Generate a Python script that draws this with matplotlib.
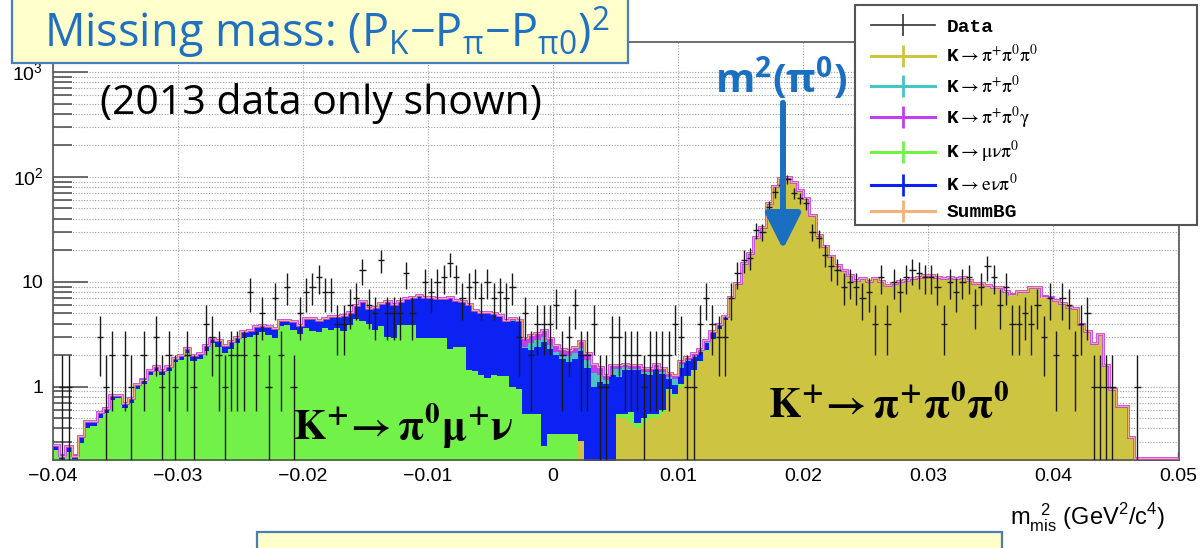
import numpy as np
import matplotlib
matplotlib.use("Agg")
import matplotlib.pyplot as plt
from matplotlib.patches import Rectangle
from matplotlib.lines import Line2D
from matplotlib.ticker import FixedLocator, LogLocator, NullFormatter
from matplotlib.font_manager import FontProperties

# histogram binning (m_mis^2 in GeV^2/c^4)
x_lo, bin_w, n_bins = -0.04, 0.0005, 180

# stacked total of all MC backgrounds (SummBG)
summ_bg = [
    0.28, 0.22, 0.27, 0.22, 0.34, 0.47, 0.47, 0.57, 0.62, 0.84,
    0.84, 0.70, 0.78, 1.05, 1.17, 1.45, 1.56, 1.45, 1.56, 1.87,
    2.0, 2.33, 2.0, 2.1, 2.5, 2.9, 2.8, 2.5, 2.7, 3.0,
    3.4, 3.5, 3.8, 3.9, 3.8, 3.6, 4.35, 4.35, 4.2, 3.9,
    4.5, 4.5, 4.35, 4.5, 4.7, 4.75, 4.85, 5.2, 6.0, 6.5,
    5.6, 5.8, 6.3, 6.5, 6.2, 6.5, 7.0, 7.2, 7.5, 7.2,
    7.2, 7.0, 7.0, 7.2, 6.7, 6.5, 6.2, 5.4, 5.2, 5.2,
    5.0, 4.85, 4.35, 4.5, 4.35, 2.9, 3.1, 3.25, 3.5, 2.9,
    2.5, 2.3, 2.25, 2.4, 2.7, 2.1, 1.65, 1.55, 1.3, 1.6,
    1.6, 1.65, 1.6, 1.6, 1.5, 1.5, 1.65, 1.5, 1.35, 1.3,
    1.75, 1.9, 2.1, 2.3, 2.8, 3.4, 4.0, 4.7, 7.2, 9.7,
    15, 18.7, 27, 33, 56, 81, 97, 100, 90, 75,
    63, 43, 28, 21.7, 17.5, 14.5, 13, 11.7, 10.4, 10.8,
    10.1, 10.8, 10.1, 9.4, 9.7, 10.1, 10.4, 10.8, 11.2, 11.7,
    11.7, 11.2, 10.8, 11.2, 10.8, 11.2, 10.4, 9.7, 9.7, 9.4,
    9.0, 9.0, 8.1, 7.5, 8.1, 8.1, 9.0, 9.0, 7.2, 7.0,
    6.7, 6.3, 5.8, 5.6, 4.0, 3.4, 2.6, 3.2, 1.6, 0.95,
    0.65, 0.65, 0.33, 0.21, 0.21, 0.21, 0.21, 0.21, 0.21, 0.21,
]

# K -> pi+ pi0 pi0
k3pi = [
    0, 0, 0, 0, 0, 0, 0, 0, 0, 0,
    0, 0, 0, 0, 0, 0, 0, 0, 0, 0,
    0, 0, 0, 0, 0, 0, 0, 0, 0, 0,
    0, 0, 0, 0, 0, 0, 0, 0, 0, 0,
    0, 0, 0, 0, 0, 0, 0, 0, 0, 0,
    0, 0, 0, 0, 0, 0, 0, 0, 0, 0,
    0, 0, 0, 0, 0, 0, 0, 0, 0, 0,
    0, 0, 0, 0, 0, 0, 0, 0, 0, 0,
    0, 0, 0, 0, 0.3, 0, 0, 0, 0, 0,
    0.5, 0.5, 0.45, 0.4, 0.45, 0.5, 0.5, 0.55, 0.9, 0.8,
    1.0, 1.2, 1.4, 1.7, 2.2, 2.8, 3.5, 4.3, 6.8, 9.3,
    14.5, 18, 26, 32, 54, 78, 94, 97, 87, 72,
    61, 41.5, 27, 21, 17, 14, 12.6, 11.3, 10.1, 10.5,
    9.8, 10.5, 9.8, 9.1, 9.4, 9.8, 10.1, 10.5, 10.9, 11.3,
    11.3, 10.9, 10.5, 10.9, 10.5, 10.9, 10.1, 9.4, 9.4, 9.1,
    8.7, 8.7, 7.9, 7.3, 7.9, 7.9, 8.7, 8.7, 7.0, 6.8,
    6.5, 6.1, 5.6, 5.4, 3.9, 3.3, 2.5, 3.1, 1.55, 0.92,
    0.63, 0.63, 0.32, 0, 0, 0, 0, 0, 0, 0,
]

# K -> mu nu pi0
kmu3 = [
    0.25, 0.2, 0.24, 0.2, 0.29, 0.4, 0.42, 0.5, 0.56, 0.75,
    0.78, 0.62, 0.7, 0.95, 1.05, 1.3, 1.4, 1.3, 1.4, 1.7,
    1.8, 2.1, 1.75, 1.85, 2.2, 2.6, 2.4, 2.1, 2.3, 2.6,
    2.9, 3.0, 3.1, 3.3, 3.1, 2.9, 3.8, 3.9, 3.5, 3.2,
    3.6, 3.4, 3.3, 3.6, 3.5, 3.6, 3.4, 3.9, 4.4, 4.2,
    4.0, 3.5, 3.8, 3.0, 2.9, 3.9, 3.9, 3.9, 2.9, 2.9,
    2.9, 2.9, 2.9, 2.3, 2.4, 2.4, 1.45, 1.4, 1.3, 1.2,
    1.3, 1.25, 1.25, 1.0, 0.95, 0.55, 0.55, 0.55, 0.27, 0.35,
    0.35, 0.35, 0.35, 0.35, 0, 0, 0, 0, 0, 0,
    0.05, 0.05, 0.12, 0.05, 0.05, 0.05, 0.05, 0.05, 0.05, 0.05,
    0.05, 0.05, 0.05, 0.05, 0.03, 0.03, 0.02, 0.02, 0, 0,
    0, 0, 0, 0, 0, 0, 0, 0, 0, 0,
    0, 0, 0, 0, 0, 0, 0, 0, 0, 0,
    0, 0, 0, 0, 0, 0, 0, 0, 0, 0,
    0, 0, 0, 0, 0, 0, 0, 0, 0, 0,
    0, 0, 0, 0, 0, 0, 0, 0, 0, 0,
    0, 0, 0, 0, 0, 0, 0, 0, 0, 0,
    0, 0, 0, 0, 0, 0, 0, 0, 0, 0,
]

# K -> pi+ pi0
k2pi = [
    0, 0, 0, 0, 0, 0, 0, 0, 0, 0,
    0, 0, 0, 0, 0, 0, 0, 0, 0, 0,
    0, 0, 0, 0, 0, 0, 0, 0, 0, 0,
    0, 0, 0, 0, 0, 0, 0, 0, 0, 0,
    0, 0, 0, 0, 0, 0, 0, 0, 0, 0,
    0.02, 0.02, 0.02, 0.02, 0.02, 0.02, 0.02, 0.02, 0.02, 0.02,
    0.02, 0.02, 0.02, 0.02, 0.02, 0.02, 0.02, 0.02, 0.02, 0.02,
    0.05, 0.05, 0.1, 0.15, 0.05, 0.05, 0.35, 0.4, 0.35, 0.2,
    0.15, 0.1, 0.25, 0.25, 0.15, 0.3, 0.35, 0.2, 0.1, 0.2,
    0.25, 0.1, 0.05, 0.05, 0.05, 0.1, 0.05, 0.05, 0.05, 0.15,
    0.15, 0.05, 0.05, 0.05, 0.05, 0.05, 0.05, 0.05, 0.05, 0.05,
    0, 0, 0, 0, 0, 0, 0, 0, 0, 0,
    0, 0, 0, 0, 0, 0, 0, 0, 0, 0,
    0, 0, 0, 0, 0, 0, 0, 0, 0, 0,
    0, 0, 0, 0, 0, 0, 0, 0, 0, 0,
    0, 0, 0, 0, 0, 0, 0, 0, 0, 0,
    0, 0, 0, 0, 0, 0, 0, 0, 0, 0,
    0, 0, 0, 0, 0, 0, 0, 0, 0, 0,
]

# K -> pi+ pi0 gamma
k2pig = [
    0.01, 0.01, 0.01, 0.01, 0.01, 0.01, 0.01, 0.01, 0.01, 0.01,
    0.02, 0.02, 0.02, 0.02, 0.02, 0.02, 0.02, 0.02, 0.02, 0.02,
    0.04, 0.04, 0.04, 0.04, 0.04, 0.04, 0.04, 0.04, 0.04, 0.04,
    0.06, 0.06, 0.06, 0.06, 0.06, 0.06, 0.06, 0.06, 0.06, 0.06,
    0.08, 0.08, 0.08, 0.08, 0.08, 0.08, 0.08, 0.08, 0.08, 0.08,
    0.1, 0.1, 0.1, 0.1, 0.1, 0.1, 0.1, 0.1, 0.1, 0.1,
    0.12, 0.12, 0.12, 0.12, 0.12, 0.12, 0.15, 0.15, 0.15, 0.15,
    0.15, 0.15, 0.15, 0.15, 0.2, 0.5, 0.5, 0.45, 0.5, 0.4,
    0.35, 0.35, 0.3, 0.3, 0.35, 0.3, 0.3, 0.25, 0.15, 0.12,
    0.12, 0.12, 0.12, 0.12, 0.12, 0.12, 0.12, 0.12, 0.12, 0.12,
    0.1, 0.1, 0.12, 0.12, 0.12, 0.12, 0.12, 0.12, 0.15, 0.2,
    0.5, 0.7, 1.0, 1.0, 2.0, 3.0, 3.0, 3.0, 3.0, 3.0,
    2.0, 1.5, 1.0, 0.7, 0.5, 0.5, 0.4, 0.4, 0.3, 0.3,
    0.3, 0.3, 0.3, 0.3, 0.3, 0.3, 0.3, 0.3, 0.3, 0.3,
    0.3, 0.3, 0.3, 0.3, 0.3, 0.3, 0.3, 0.3, 0.3, 0.3,
    0.3, 0.3, 0.3, 0.3, 0.3, 0.3, 0.3, 0.3, 0.3, 0.3,
    0.2, 0.2, 0.2, 0.2, 0.1, 0.1, 0.1, 0.1, 0.05, 0.03,
    0.02, 0.02, 0.01, 0.21, 0.21, 0.21, 0.21, 0.21, 0.21, 0.21,
]

# 2013 data, events per bin
data = [
    0, 1, 1, 0, 0, 0, 0, 3, 1, 2,
    0, 2, 1, 0, 2, 0, 3, 1, 2, 1,
    0, 2, 1, 0, 4, 3, 2, 1, 2, 2,
    2, 8, 2, 5, 1, 7, 2, 9, 1, 5,
    8, 9, 11, 8, 8, 4, 4, 6, 7, 13,
    6, 5, 16, 5, 5, 5, 12, 5, 0, 10,
    8, 10, 11, 15, 11, 7, 9, 10, 7, 10,
    7, 8, 7, 9, 3, 5, 2, 4, 4, 4,
    6, 2, 3, 6, 2, 2, 4, 1, 1, 3,
    3, 2, 2, 2, 1, 2, 2, 2, 2, 4,
    3, 1, 1, 4, 7, 4, 3, 3, 7, 12,
    16, 17, 31, 30, 52, 72, 84, 95, 70, 63,
    56, 30, 26, 18, 14, 13, 9, 10, 9, 7,
    8, 4, 11, 4, 10, 8, 11, 13, 12, 11,
    11, 9, 4, 10, 8, 10, 11, 6, 9, 14,
    11, 6, 9, 4, 4, 5, 4, 6, 3, 7,
    2, 7, 6, 2, 4, 5, 1, 1, 1, 1,
    0, 0, 0, 1, 0, 0, 0, 0, 0, 0,
]

c_k3pi, c_kmu3, c_ke3 = "#cdc542", "#72f249", "#0b22f2"
c_k2pi, c_k2pig, c_summ = "#48c4c4", "#c040f0", "#f4b27a"

W, H = 1201, 548
fig = plt.figure(figsize=(W / 100, H / 100), dpi=100)
ax = fig.add_axes([53 / W, 88 / H, 1126 / W, 418 / H])
ax.set_yscale("log")

edges = x_lo + bin_w * np.arange(n_bins + 1)
centers = edges[:-1] + bin_w / 2
summ_bg = np.array(summ_bg, float)
k3pi, kmu3 = np.array(k3pi, float), np.array(kmu3, float)
k2pi, k2pig = np.array(k2pi, float), np.array(k2pig, float)
ke3 = np.clip(summ_bg - k3pi - kmu3 - k2pi - k2pig, 0, None)

# stacked fills, bottom to top
base = np.full(n_bins, 1e-3)
for vals, col in [(k3pi, c_k3pi), (kmu3, c_kmu3), (ke3, c_ke3),
                  (k2pi, c_k2pi), (k2pig, c_k2pig)]:
    top = base + vals
    ax.fill_between(edges, np.append(base, base[-1]), np.append(top, top[-1]),
                    step="post", color=col, lw=0, zorder=2)
    base = top
ax.stairs(base, edges, baseline=None, color=c_k2pig, lw=2.0, zorder=3)
ax.stairs(summ_bg, edges, baseline=None, color=c_summ, lw=0.8, zorder=3)

# data crosses
data = np.array(data, float)
m = data > 0
err = np.sqrt(data[m])
low = np.minimum(err, data[m] * 0.999)
ax.errorbar(centers[m], data[m], xerr=bin_w / 2, yerr=[low, err], fmt="none",
            ecolor="#1a1a1a", elinewidth=1.0, capsize=0, zorder=4)

ax.set_xlim(-0.04, 0.05008)
ax.set_ylim(0.2, 1930)
ax.set_axisbelow(True)
ax.yaxis.set_major_locator(FixedLocator([1, 10, 100, 1000]))
ax.set_yticklabels(["1", "10", r"10$^{\mathregular{2}}$", r"10$^{\mathregular{3}}$"])
ax.yaxis.set_minor_locator(LogLocator(base=10, subs=np.arange(2, 10)))
ax.yaxis.set_minor_formatter(NullFormatter())
ax.set_xticks(np.round(np.arange(-0.04, 0.0501, 0.01), 2))
ax.set_xticklabels(["\u22120.04", "\u22120.03", "\u22120.02", "\u22120.01", "0",
                    "0.01", "0.02", "0.03", "0.04", "0.05"])
tick_font = ["Liberation Sans Narrow", "Liberation Sans", "DejaVu Sans"]
for lab in ax.get_xticklabels() + ax.get_yticklabels():
    lab.set_family(tick_font)
    lab.set_fontsize(14)
ax.tick_params(axis="y", which="major", direction="in", length=25, width=1.2,
               color="#555555", pad=7)
ax.tick_params(axis="y", which="minor", direction="in", length=14, width=1.2,
               color="#555555")
ax.tick_params(axis="x", which="major", direction="in", length=6, width=1,
               color="#555555", pad=6)
ax.grid(True, which="major", axis="x", ls=(0, (1, 1.5)), color="#a0a0a0", lw=0.8)
ax.grid(True, which="both", axis="y", ls=(0, (1, 1.5)), color="#a0a0a0", lw=0.8)
for sp in ax.spines.values():
    sp.set_color("#555555")
    sp.set_linewidth(1.2)


def fx(px):
    return px / W


def fy(py):
    return 1 - py / H


sans = ["Open Sans", "DejaVu Sans"]

# title box
fig.patches.append(Rectangle((fx(12), fy(63)), fx(616), 0.2, transform=fig.transFigure,
                             facecolor="#ffffcc", edgecolor="#4a7ebb", lw=1.6, zorder=3))
fig.text(fx(44), fy(32),
         "Missing mass: (P$_{\\mathregular{K}}$\u2212P$_{\\mathregular{π}}$"
         "\u2212P$_{\\mathregular{π0}}$)$^{\\mathregular{2}}$",
         fontsize=32.5, color="#1f70c1", va="center", family=sans, zorder=4)
fig.text(fx(100), fy(103), "(2013 data only shown)", fontsize=29.5, va="center",
         family=sans, zorder=4)

# bottom box
fig.patches.append(Rectangle((fx(257), -0.05), fx(745), fy(532) + 0.05,
                             transform=fig.transFigure, facecolor="#ffffcc",
                             edgecolor="#4a7ebb", lw=1.6, zorder=3))

# peak label and arrow
fig.text(fx(781), fy(78), r"m$^{\mathregular{2}}$(π$^{\mathregular{0}}$)", fontsize=29,
         fontweight="bold", color="#1b6fc0", ha="center", va="center",
         family=sans, zorder=4)
ax.annotate("", xy=(fx(783), fy(252)), xytext=(fx(783), fy(100)),
            xycoords="figure fraction", textcoords="figure fraction",
            arrowprops=dict(arrowstyle="-|>,head_width=0.55,head_length=1.1",
                            lw=4.3, color="#1b6fc0", mutation_scale=20), zorder=6)

# channel labels
fig.text(fx(293), fy(425), r"$\mathsf{\mathbf{K}}^{\mathbf{+}}\!\mathbf{\rightarrow π^{0}}\boldsymbol{μ}^{\mathbf{+}}\mathbf{ν}$",
         fontsize=30, va="center", math_fontfamily="stix", zorder=4)
fig.text(fx(768), fy(405), r"$\mathsf{\mathbf{K}}^{\mathbf{+}}\!\mathbf{\rightarrow π^{+}π^{0}π^{0}}$",
         fontsize=30, va="center", math_fontfamily="stix", zorder=4)

# x axis title
fig.text(fx(1010), fy(518),
         r"m$_{\mathregular{mis}}^{\ \ \mathregular{2}}$ (GeV$^{\mathregular{2}}$/c$^{\mathregular{4}}$)",
         fontsize=17, va="center", family=tick_font)

# legend
fig.patches.append(Rectangle((fx(855), fy(225)), fx(342), 220 / H, transform=fig.transFigure,
                             facecolor="white", edgecolor="#555555", lw=1.5, zorder=4))
leg_labels = ["Data", r"K$\rightarrow\mathrm{π^{+}π^{0}π^{0}}$", r"K$\rightarrow\mathrm{π^{+}π^{0}}$",
              r"K$\rightarrow\mathrm{π^{+}π^{0}γ}$", r"K$\rightarrow\mathrm{μνπ^{0}}$",
              r"K$\rightarrow\mathrm{eνπ^{0}}$", "SummBG"]
leg_colors = ["#333333", c_k3pi, c_k2pi, c_k2pig, c_kmu3, c_ke3, c_summ]
handles = [Line2D([], [], color=c, lw=2.2 if i else 1.2, marker="|", markersize=16,
                  markeredgewidth=2 if i else 1.2) for i, c in enumerate(leg_colors)]
leg_font = FontProperties(family=["Liberation Mono", "DejaVu Sans Mono"], weight="bold",
                          size=14, math_fontfamily="stix")
leg = fig.legend(handles, leg_labels, loc="upper left", bbox_to_anchor=(fx(857), fy(5)),
                 frameon=False, prop=leg_font, handlelength=3.3, handletextpad=0.6,
                 labelspacing=0.42, borderpad=0.2)
leg.set_zorder(5)

fig.savefig("out.png", dpi=100)
